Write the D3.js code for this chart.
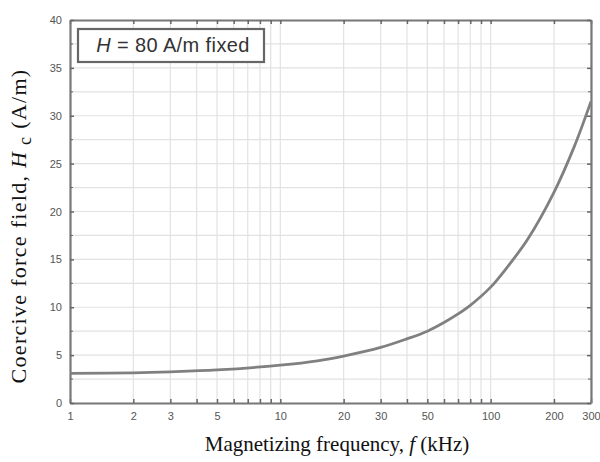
<!DOCTYPE html>
<html>
<head>
<meta charset="utf-8">
<script src="https://cdn.jsdelivr.net/npm/d3@7"></script>
<style>
  body { margin: 0; background: #fff; }
  .tick text { font-family: "Liberation Sans", Arial, sans-serif; font-size: 11px; fill: #555; }
  .title { font-family: "Liberation Serif", "Times New Roman", serif; font-size: 21px; fill: #111; }
</style>
</head>
<body>
<div id="canvas"></div>
<script>
// frequency (kHz) and coercive force (A/m)
var freq = [1, 2, 3, 5, 10, 15, 20, 30, 40, 50, 60, 70, 80, 100, 120, 150, 200, 250, 300]
var hc = [3.1, 3.15, 3.25, 3.45, 3.95, 4.4, 4.9, 5.8, 6.7, 7.5, 8.4, 9.3, 10.2, 12.1, 14.2, 17.1, 22.0, 26.8, 31.5]

var xTicks = [1, 2, 3, 4, 5, 6, 7, 8, 9, 10, 20, 30, 40, 50, 60, 70, 80, 90, 100, 200, 300]
var xLabels = [1, 2, 3, 5, 10, 20, 30, 50, 100, 200, 300]
var yTicks = [0, 5, 10, 15, 20, 25, 30, 35, 40]
var yMinor = [2.5, 7.5, 12.5, 17.5, 22.5, 27.5, 32.5, 37.5]
var legendText = "= 80 A/m fixed"

var width = 600
var height = 462
var plotLeft = 70, plotRight = 591, plotTop = 20, plotBottom = 403

var svg = d3.select("#canvas")
    .append("svg")
    .attr("width", width)
    .attr("height", height)

var xScale = d3.scaleLog().domain([1, 300]).range([plotLeft, plotRight])
var yScale = d3.scaleLinear().domain([0, 40]).range([plotBottom, plotTop])

// grid
svg.append("g")
    .selectAll("line")
    .data(xTicks.slice(1))
    .enter()
    .append("line")
    .attr("x1", function (d) { return xScale(d) })
    .attr("x2", function (d) { return xScale(d) })
    .attr("y1", plotTop)
    .attr("y2", plotBottom)
    .attr("stroke", "#e2e2e2")
    .attr("stroke-width", 1.2)

svg.append("g")
    .selectAll("line")
    .data(yTicks.slice(1, -1).concat(yMinor))
    .enter()
    .append("line")
    .attr("x1", plotLeft)
    .attr("x2", plotRight)
    .attr("y1", function (d) { return yScale(d) })
    .attr("y2", function (d) { return yScale(d) })
    .attr("stroke", "#e2e2e2")
    .attr("stroke-width", 1.2)

// axes, ticks pointing inward
var xAxis = svg.append("g")
    .attr("transform", `translate(0,${plotBottom})`)
    .call(d3.axisBottom(xScale)
        .tickValues(xTicks)
        .tickSizeInner(-4)
        .tickSizeOuter(0)
        .tickPadding(9)
        .tickFormat(function (d) { return xLabels.indexOf(d) >= 0 ? d : "" }))

var xTop = svg.append("g")
    .attr("transform", `translate(0,${plotTop})`)
    .call(d3.axisTop(xScale)
        .tickValues(xTicks)
        .tickSizeInner(-4)
        .tickSizeOuter(0)
        .tickFormat(""))

var yAxis = svg.append("g")
    .attr("transform", `translate(${plotLeft},0)`)
    .call(d3.axisLeft(yScale)
        .tickValues(yTicks)
        .tickSizeInner(-4)
        .tickSizeOuter(0)
        .tickPadding(8))

var yRight = svg.append("g")
    .attr("transform", `translate(${plotRight},0)`)
    .call(d3.axisRight(yScale)
        .tickValues(yTicks)
        .tickSizeInner(-4)
        .tickSizeOuter(0)
        .tickFormat(""))

// minor y ticks
svg.append("g")
    .selectAll("line")
    .data(yMinor)
    .enter()
    .append("line")
    .attr("x1", plotLeft)
    .attr("x2", plotLeft + 3)
    .attr("y1", function (d) { return yScale(d) })
    .attr("y2", function (d) { return yScale(d) })
    .attr("stroke", "#666")
svg.append("g")
    .selectAll("line")
    .data(yMinor)
    .enter()
    .append("line")
    .attr("x1", plotRight)
    .attr("x2", plotRight - 3)
    .attr("y1", function (d) { return yScale(d) })
    .attr("y2", function (d) { return yScale(d) })
    .attr("stroke", "#666")

svg.selectAll(".domain").attr("stroke", "#777").attr("stroke-width", 2.2)
svg.selectAll(".tick line").attr("stroke", "#666").attr("stroke-width", 1.5)

// curve
var line = d3.line()
    .x(function (d, i) { return xScale(freq[i]) })
    .y(function (d) { return yScale(d) })
    .curve(d3.curveCatmullRom)

svg.append("path")
    .datum(hc)
    .attr("d", line)
    .attr("fill", "none")
    .attr("stroke", "#808080")
    .attr("stroke-width", 2.8)

// legend box
svg.append("rect")
    .attr("x", 78)
    .attr("y", 29)
    .attr("width", 186)
    .attr("height", 33)
    .attr("fill", "#fff")
    .attr("stroke", "#666")
    .attr("stroke-width", 2.2)

var legend = svg.append("text")
    .attr("x", 173)
    .attr("y", 52)
    .attr("text-anchor", "middle")
    .style("font-family", "Liberation Sans, Arial, sans-serif")
    .style("font-size", "20px")
    .style("letter-spacing", "0.4px")
    .attr("fill", "#333")
legend.append("tspan").style("font-style", "italic").text("H")
legend.append("tspan").text(" " + legendText)

// axis titles
var xt = svg.append("text")
    .attr("class", "title")
    .attr("x", 337)
    .attr("y", 451)
    .attr("text-anchor", "middle")
xt.append("tspan").text("Magnetizing frequency, ")
xt.append("tspan").style("font-style", "italic").text("f")
xt.append("tspan").text(" (kHz)")

var yt = svg.append("text")
    .attr("class", "title")
    .attr("transform", "translate(26,226) rotate(-90)")
    .attr("text-anchor", "middle")
    .style("font-size", "22px")
    .style("letter-spacing", "1.3px")
yt.append("tspan").text("Coercive force field, ")
yt.append("tspan").style("font-style", "italic").text("H")
yt.append("tspan").attr("dy", 5).style("font-size", "18px").text(" c")
yt.append("tspan").attr("dy", -5).text(" (A/m)")
</script>
</body>
</html>
